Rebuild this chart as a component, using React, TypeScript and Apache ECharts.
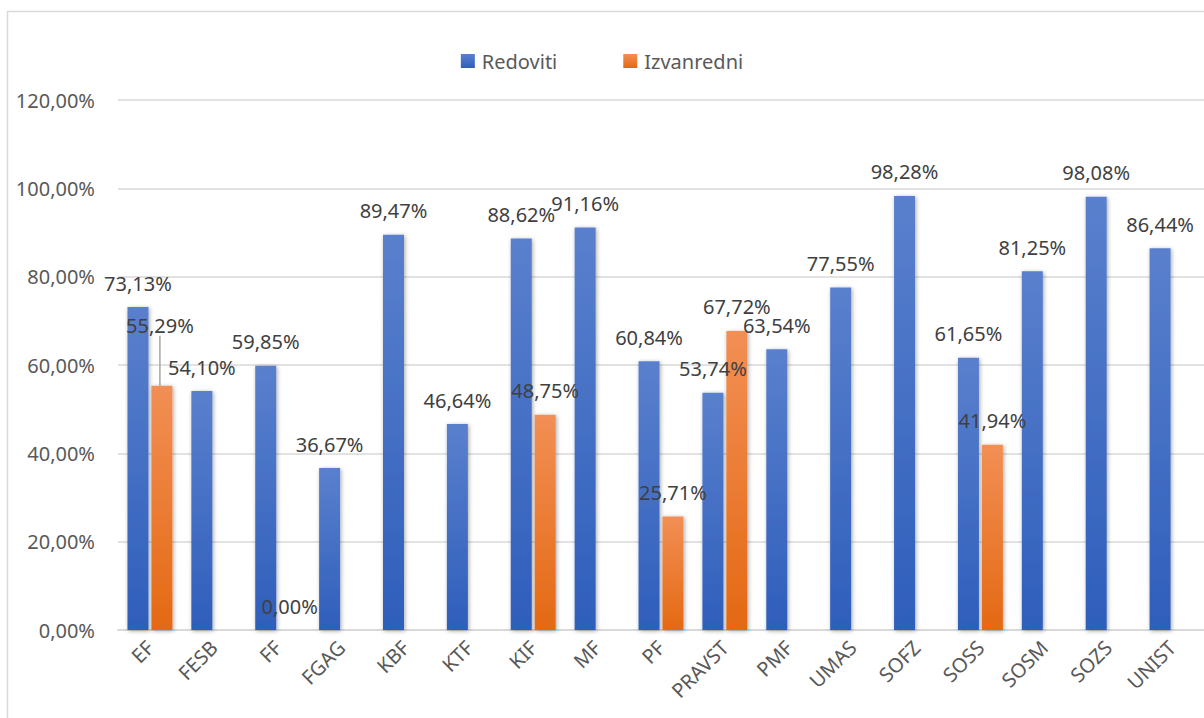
import React, { useEffect, useRef } from "react";
import * as echarts from "echarts";

const categories = ["EF", "FESB", "FF", "FGAG", "KBF", "KTF", "KIF", "MF", "PF", "PRAVST", "PMF", "UMAS", "SOFZ", "SOSS", "SOSM", "SOZS", "UNIST"];
const redoviti = [73.13, 54.1, 59.85, 36.67, 89.47, 46.64, 88.62, 91.16, 60.84, 53.74, 63.54, 77.55, 98.28, 61.65, 81.25, 98.08, 86.44];
const izvanredni: (number | null)[] = [55.29, null, 0.0, null, null, null, 48.75, null, 25.71, 67.72, null, null, null, 41.94, null, null, null];
const yTicks = { min: 0, max: 120, interval: 20 };
const seriesNames = ["Redoviti", "Izvanredni"];

const FONT = "'Noto Sans', sans-serif";
const fmt = (v: number) => v.toFixed(2).replace(".", ",") + "%";

export default function App() {
  const ref = useRef<HTMLDivElement>(null);
  useEffect(() => {
    if (!ref.current) return;
    const chart = echarts.init(ref.current, null, { renderer: "svg" });
    const blue = new echarts.graphic.LinearGradient(0, 0, 0, 1, [
      { offset: 0, color: "#5a80cd" },
      { offset: 1, color: "#2e5ebb" },
    ]);
    const orange = new echarts.graphic.LinearGradient(0, 0, 0, 1, [
      { offset: 0, color: "#f28f55" },
      { offset: 1, color: "#e46913" },
    ]);
    const labelCommon = {
      show: true,
      position: "top" as const,
      distance: 14,
      fontFamily: FONT,
      fontSize: 20,
      color: "#404040",
      formatter: (p: any) => fmt(p.value),
    };
    const shadow = {
      shadowBlur: 4,
      shadowColor: "rgba(0,0,0,0.35)",
      shadowOffsetX: 1,
      shadowOffsetY: 1,
    };
    const orangeData = izvanredni.map((v, i) =>
      v === null
        ? "-"
        : i === 0
        ? { value: v, labelLine: { show: true, lineStyle: { color: "#a6a6a6", width: 1.5 } } }
        : { value: v, labelLine: { show: false } }
    );
    chart.setOption({
      animation: false,
      backgroundColor: "#ffffff",
      graphic: [
        {
          type: "polyline",
          shape: { points: [[7.5, 760], [7.5, 11.5], [1220, 11.5]] },
          style: { stroke: "#d9d9d9", lineWidth: 1.5, fill: "none" },
          silent: true,
        },
      ],
      legend: {
        data: seriesNames,
        left: "center",
        top: 46,
        itemWidth: 14,
        itemHeight: 14,
        itemGap: 66,
        icon: "rect",
        textStyle: { fontFamily: FONT, fontSize: 20, color: "#595959", padding: [0, 0, 0, 2] },
      },
      grid: { left: 118, top: 100, width: 1088, height: 530, containLabel: false },
      xAxis: {
        type: "category",
        data: categories,
        axisTick: { show: false },
        axisLine: { lineStyle: { color: "#d9d9d9", width: 2 } },
        axisLabel: {
          rotate: 45,
          margin: 14,
          fontFamily: FONT,
          fontSize: 20,
          color: "#595959",
          interval: 0,
        },
      },
      yAxis: {
        type: "value",
        min: yTicks.min,
        max: yTicks.max,
        interval: yTicks.interval,
        axisLine: { show: false },
        axisTick: { show: false },
        splitLine: { lineStyle: { color: "#d9d9d9", width: 1.5 } },
        axisLabel: {
          margin: 23,
          fontFamily: FONT,
          fontSize: 20,
          color: "#595959",
          formatter: (v: number) => fmt(v),
        },
      },
      series: [
        {
          name: seriesNames[0],
          type: "bar",
          data: redoviti,
          barWidth: 21,
          barGap: "14%",
          itemStyle: { color: blue, ...shadow },
          label: labelCommon,
        },
        {
          name: seriesNames[1],
          type: "bar",
          data: orangeData,
          barWidth: 21,
          itemStyle: { color: orange, ...shadow },
          label: labelCommon,
          labelLine: { show: false },
          labelLayout: (p: any) => (p.dataIndex === 0 ? { dy: -36, dx: -2 } : {}),
        },
      ],
    });
    return () => chart.dispose();
  }, []);
  return (
    <div
      ref={ref}
      style={{ position: "fixed", left: 0, top: 0, width: 1204, height: 718 }}
    />
  );
}
